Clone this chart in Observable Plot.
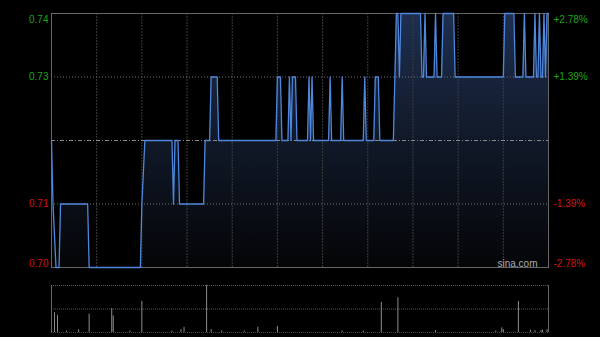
<!DOCTYPE html>
<html><head><meta charset="utf-8">
<script src="https://cdn.jsdelivr.net/npm/d3@7"></script>
<script src="https://cdn.jsdelivr.net/npm/@observablehq/plot@0.6"></script>
<style>
html,body{margin:0;padding:0;background:#000;}
#chart{position:relative;width:600px;height:337px;background:#000;overflow:hidden;}
#chart svg{position:absolute;left:0;display:block;}
</style></head><body><div id="chart"></div>
<script>
// trading minutes from 9:30 (HK session, 330 minutes) and price at each vertex
const minutes = [0,1,3,5,6,24,25,59,60,62,80,81,82,84,85,101,102,105,106,110,111,149,150,152,153,157,158,159,160,162,163,170,171,172,173,174,184,185,186,192,193,194,207,208,209,214,215,217,218,227,228,229,230,231,232,245,246,247,248,249,254,255,256,259,260,267,268,300,301,307,308,313,314,315,320,321,322,323,324,325,326,327,328,329,330];
const prices  = [0.72,0.71,0.70,0.70,0.71,0.71,0.70,0.70,0.71,0.72,0.72,0.71,0.72,0.72,0.71,0.71,0.72,0.72,0.73,0.73,0.72,0.72,0.73,0.73,0.72,0.72,0.73,0.72,0.73,0.73,0.72,0.72,0.73,0.72,0.73,0.72,0.72,0.73,0.72,0.72,0.73,0.72,0.72,0.73,0.72,0.72,0.73,0.73,0.72,0.72,0.73,0.74,0.74,0.73,0.74,0.74,0.73,0.73,0.74,0.73,0.73,0.74,0.73,0.73,0.74,0.74,0.73,0.73,0.74,0.74,0.73,0.73,0.74,0.73,0.73,0.74,0.73,0.73,0.74,0.73,0.73,0.74,0.73,0.74,0.74];

// volume bars (relative units)
const volMinutes = [2,4,10,18,25,40,41,52,60,80,86,88,103,106,113,128,137,150,193,207,219,230,255,295,299,300,310,318,321,325,326,329];
const volumes    = [42,36,3,6,39,51,35,3,66,3,6,11,100,6,3,3,11,13,3,3,64,74,4,3,10,6,66,5,4,4,5,6];

const gridMinutes = [30,60,90,120,150,180,210,240,270,300];
const prevClose = 0.72;
const priceTicks  = [0.74, 0.73, 0.71, 0.70];
const priceLabels = ["0.74", "0.73", "0.71", "0.70"];
const pctLabels   = ["+2.78%", "+1.39%", "-1.39%", "-2.78%"];

const priceData = minutes.map((t, i) => ({t, p: prices[i]}));
const volData = volMinutes.map((t, i) => ({t, v: volumes[i]}));
const tickData = priceTicks.map((v, i) => ({v, label: priceLabels[i], pct: pctLabels[i], up: v > prevClose}));

const GREEN = "#1ca51c", RED = "#d01616";
const font = "'Liberation Sans', Arial, sans-serif";
const xDomain = [0, 330];
const yDomain = [d3.min(priceTicks), d3.max(priceTicks)];
const colorOf = d => d.up ? GREEN : RED;
const isTop = d => d.v === yDomain[1];
const isBottom = d => d.v === yDomain[0];
const isMid = d => !isTop(d) && !isBottom(d);

function labelMarks(filter, lineAnchor, dy) {
  return [
    Plot.text(tickData, {filter, y: "v", text: "label", frameAnchor: "left", textAnchor: "end", dx: -3, dy, lineAnchor, fill: colorOf}),
    Plot.text(tickData, {filter, y: "v", text: "pct", frameAnchor: "right", textAnchor: "start", dx: 5, dy, lineAnchor, fill: colorOf})
  ];
}

const main = Plot.plot({
  width: 600, height: 280,
  marginLeft: 51, marginRight: 52, marginTop: 13, marginBottom: 13,
  style: {background: "transparent", fontFamily: font, fontSize: "10px", overflow: "visible"},
  x: {domain: xDomain, axis: null},
  y: {domain: yDomain, axis: null},
  marks: [
    Plot.areaY(priceData, {x: "t", y1: yDomain[0], y2: "p", fill: "url(#priceGrad)"}),
    Plot.ruleX(gridMinutes, {stroke: "#3c3c3c", strokeDasharray: "2,1"}),
    Plot.ruleY(tickData.filter(isMid), {y: "v", stroke: "#707070", strokeDasharray: "1,2"}),
    Plot.ruleY([prevClose], {stroke: "#8a8a8a", strokeDasharray: "4,2,1,2"}),
    Plot.frame({stroke: "#666"}),
    Plot.line(priceData, {x: "t", y: "p", stroke: "#4f87dc", strokeWidth: 1.3}),
    ...labelMarks(isMid, "middle", 0),
    ...labelMarks(isTop, "top", 2),
    ...labelMarks(isBottom, "bottom", -1),
    Plot.text(["sina.com"], {text: d => d, frameAnchor: "bottom-right", textAnchor: "end", lineAnchor: "bottom", dx: -11, dy: -1, fill: "#aaa", fontSize: 10})
  ]
});

// gradient for the price area
const ns = "http://www.w3.org/2000/svg";
const defs = document.createElementNS(ns, "defs");
const grad = document.createElementNS(ns, "linearGradient");
grad.setAttribute("id", "priceGrad");
grad.setAttribute("gradientUnits", "userSpaceOnUse");
grad.setAttribute("x1", "0"); grad.setAttribute("x2", "0");
grad.setAttribute("y1", "13"); grad.setAttribute("y2", "267");
[["0%", "#1e2f50"], ["45%", "#121b2c"], ["100%", "#040507"]].forEach(([o, c]) => {
  const s = document.createElementNS(ns, "stop");
  s.setAttribute("offset", o); s.setAttribute("stop-color", c);
  grad.appendChild(s);
});
defs.appendChild(grad);
main.insertBefore(defs, main.firstChild);
main.style.top = "0px";

const vol = Plot.plot({
  width: 600, height: 57,
  marginLeft: 51, marginRight: 52, marginTop: 5, marginBottom: 5,
  style: {background: "transparent", overflow: "visible"},
  x: {domain: xDomain, axis: null},
  y: {domain: [0, d3.max(volumes)], axis: null},
  marks: [
    Plot.ruleY([d3.max(volumes), d3.max(volumes) / 2], {stroke: "#5a5a5a", strokeDasharray: "1,1"}),
    Plot.ruleY([0], {stroke: "#4a4a4a", strokeDasharray: "1,1"}),
    Plot.ruleX(volData, {x: "t", y1: 0, y2: "v", stroke: "#8c8c8c"}),
    Plot.ruleX(xDomain, {stroke: "#666"})
  ]
});
vol.style.top = "280px";

const root = document.getElementById("chart");
root.appendChild(main);
root.appendChild(vol);
</script></body></html>
